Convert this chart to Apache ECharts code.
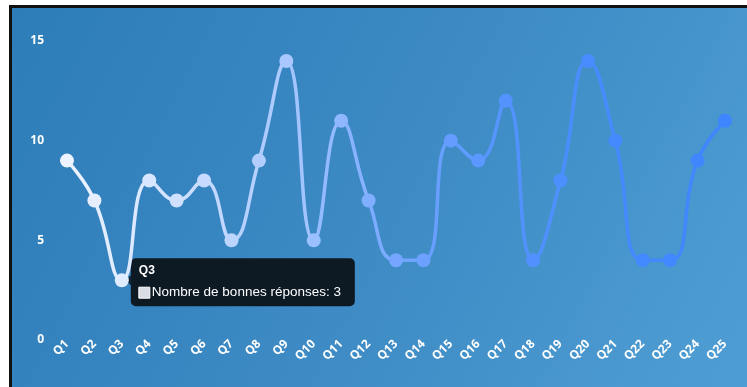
<!DOCTYPE html>
<html>
<head>
<meta charset="utf-8">
<script src="https://cdn.jsdelivr.net/npm/echarts@6/dist/echarts.min.js"></script>
<style>
  html, body { margin: 0; padding: 0; background: #ffffff; width: 747px; height: 387px; overflow: hidden; }
  #frame {
    position: absolute; left: 9px; top: 5px; width: 738px; height: 382px;
    border-top: 3px solid #111; border-left: 3px solid #111; box-sizing: border-box;
  }
  #chart { width: 735px; height: 379px; }
</style>
</head>
<body>
<div id="frame"><div id="chart"></div></div>
<script>
// Questions of the quiz and the number of correct answers for each one
const questions = ['Q1','Q2','Q3','Q4','Q5','Q6','Q7','Q8','Q9','Q10','Q11','Q12','Q13',
                   'Q14','Q15','Q16','Q17','Q18','Q19','Q20','Q21','Q22','Q23','Q24','Q25'];
const bonnesReponses = [9, 7, 3, 8, 7, 8, 5, 9, 14, 5, 11, 7, 4, 4, 10, 9, 12, 4, 8, 14, 10, 4, 4, 9, 11];
const yTicks = [0, 5, 10, 15];
const seriesName = 'Nombre de bonnes réponses';
const highlighted = 2; // question whose tooltip is pinned open

const chart = echarts.init(document.getElementById('chart'));
const labelFont = '"Noto Sans", "DejaVu Sans", sans-serif';

chart.setOption({
  animation: false,
  backgroundColor: new echarts.graphic.LinearGradient(0, 0, 1, 1, [
    { offset: 0, color: '#2d7db9' },
    { offset: 0.5, color: '#3d8ac4' },
    { offset: 1, color: '#4f9ed3' }
  ]),
  grid: { left: 55, right: 22, top: 33, bottom: 47 },
  visualMap: {
    show: false, type: 'continuous', dimension: 0, min: 0, max: questions.length - 1,
    inRange: { color: ['#eef4ff', '#d0e1ff', '#a8c8ff', '#74a6ff', '#5393ff', '#458aff', '#3e86ff'] }
  },
  xAxis: {
    type: 'category', data: questions, boundaryGap: false,
    axisLine: { show: false }, axisTick: { show: false }, splitLine: { show: false },
    axisLabel: {
      rotate: 45, margin: 2, color: '#ffffff', fontSize: 12, fontWeight: 'bold',
      fontFamily: labelFont, interval: 0
    }
  },
  yAxis: {
    type: 'value', min: yTicks[0], max: yTicks[yTicks.length - 1], interval: 5,
    axisLine: { show: false }, axisTick: { show: false }, splitLine: { show: false },
    axisLabel: { color: '#ffffff', fontSize: 12, fontWeight: 'bold', fontFamily: labelFont, margin: 23 }
  },
  series: [{
    name: seriesName, type: 'line', data: bonnesReponses, smooth: 0.5,
    symbol: 'circle', symbolSize: 14,
    lineStyle: { width: 3.5 },
    itemStyle: { borderWidth: 0 }
  }]
});

// Pinned tooltip next to the highlighted point
const pt = chart.convertToPixel({ seriesIndex: 0 }, [highlighted, bonnesReponses[highlighted]]);
const tipW = 224, tipH = 48;
const tipX = pt[0] + 9;
const tipY = pt[1] - tipH / 2 + 2;
chart.setOption({
  graphic: [{
    type: 'group', x: tipX, y: tipY, z: 100,
    children: [
      { type: 'polygon', shape: { points: [[0, tipH / 2 - 7], [-5, tipH / 2 - 2], [0, tipH / 2 + 3]] },
        style: { fill: '#0d1a24' } },
      { type: 'rect', shape: { x: 0, y: 0, width: tipW, height: tipH, r: 5 }, style: { fill: '#0d1a24' } },
      { type: 'text', x: 8, y: 6,
        style: { text: questions[highlighted], fill: '#ffffff', font: 'bold 12px "Liberation Sans", Arial, sans-serif' } },
      { type: 'rect', shape: { x: 8, y: 29, width: 11, height: 11 },
        style: { fill: '#d9dde3', stroke: '#ffffff', lineWidth: 1 } },
      { type: 'text', x: 21, y: 27,
        style: { text: seriesName + ': ' + bonnesReponses[highlighted], fill: '#ffffff',
                 font: '13.5px "Liberation Sans", Arial, sans-serif' } }
    ]
  }]
});
</script>
</body>
</html>
